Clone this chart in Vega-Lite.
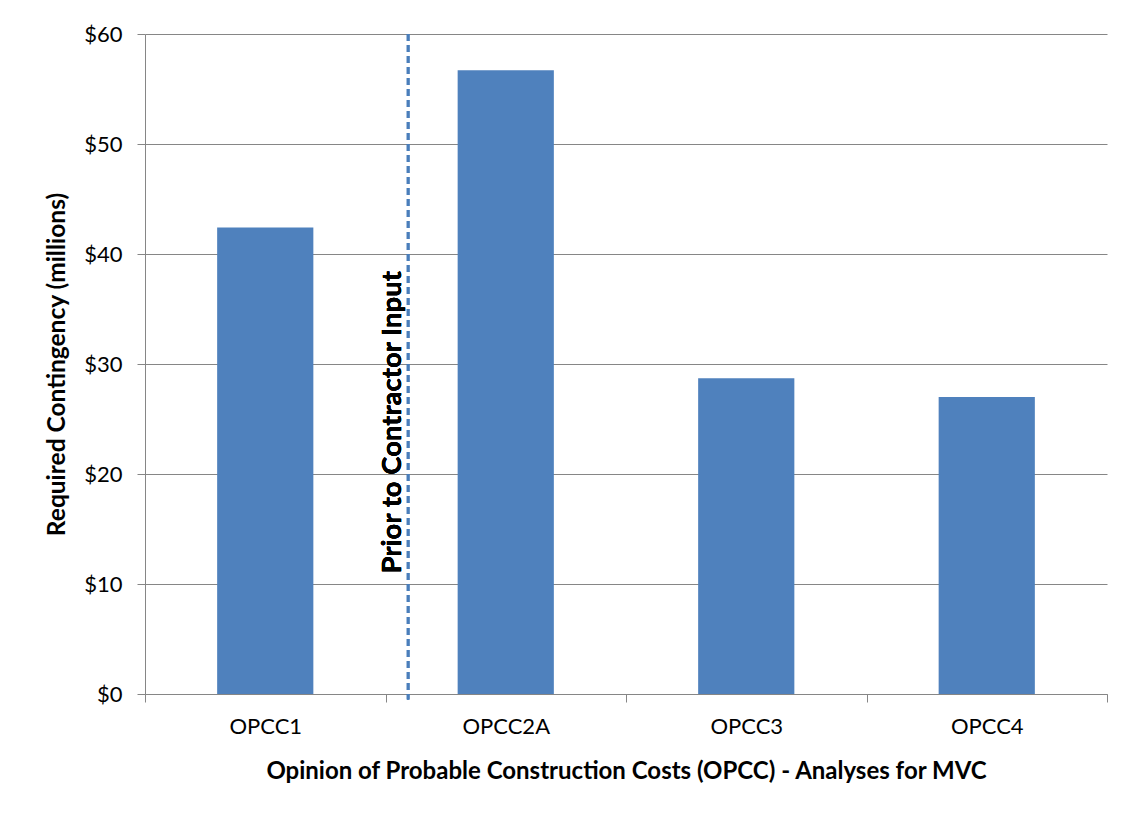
{
  "$schema": "https://vega.github.io/schema/vega-lite/v6.json",
  "width": 962,
  "height": 660,
  "autosize": {"type": "none"},
  "padding": {"left": 145, "top": 34, "right": 21, "bottom": 120},
  "background": "white",
  "config": {
    "view": {"stroke": null},
    "font": "Lato"
  },
  "data": {
    "values": [
      {"analysis": "OPCC1", "contingency": 42.4},
      {"analysis": "OPCC2A", "contingency": 56.7},
      {"analysis": "OPCC3", "contingency": 28.7},
      {"analysis": "OPCC4", "contingency": 27.0}
    ]
  },
  "layer": [
    {
      "mark": {"type": "bar", "color": "#4f81bd", "width": {"band": 0.4}},
      "encoding": {
        "x": {
          "field": "analysis",
          "type": "nominal",
          "sort": null,
          "scale": {"paddingInner": 0, "paddingOuter": 0},
          "axis": {
            "title": "Opinion of Probable Construction Costs (OPCC) - Analyses for MVC",
            "titleFont": "Lato",
            "titleFontSize": 24,
            "titleFontWeight": "bold",
            "titleColor": "#000000",
            "titlePadding": 22,
            "labelAngle": 0,
            "labelFont": "Lato",
            "labelFontSize": 22,
            "labelColor": "#000000",
            "labelPadding": 14,
            "tickBand": "extent",
            "tickSize": 8,
            "tickColor": "#868686",
            "domainColor": "#868686",
            "grid": false
          }
        },
        "y": {
          "field": "contingency",
          "type": "quantitative",
          "scale": {"domain": [0, 60], "nice": false},
          "axis": {
            "title": "Required Contingency (millions)",
            "titleFont": "Lato",
            "titleFontSize": 24.5,
            "titleFontWeight": "bold",
            "titleColor": "#000000",
            "titlePadding": 14,
            "values": [0, 10, 20, 30, 40, 50, 60],
            "labelExpr": "'$' + datum.value",
            "labelFont": "Lato",
            "labelFontSize": 22,
            "labelColor": "#000000",
            "labelPadding": 15,
            "tickSize": 8,
            "tickColor": "#868686",
            "domainColor": "#868686",
            "gridColor": "#868686",
            "gridWidth": 1
          }
        }
      }
    },
    {
      "mark": {"type": "rule", "color": "#4a7ebb", "strokeWidth": 2.5, "strokeDash": [7, 4]},
      "encoding": {
        "x": {"datum": "OPCC2A", "type": "nominal", "bandPosition": 0.094},
        "y": {"datum": 60, "type": "quantitative"},
        "y2": {"datum": -0.5}
      }
    },
    {
      "mark": {"type": "text", "angle": 270, "align": "center", "baseline": "middle", "font": "Lato", "fontSize": 27.5, "fontWeight": "bold", "color": "#000000"},
      "encoding": {
        "x": {"datum": "OPCC2A", "type": "nominal", "bandPosition": 0.032},
        "y": {"datum": 24.7, "type": "quantitative"},
        "text": {"value": "Prior to Contractor Input"}
      }
    }
  ]
}
